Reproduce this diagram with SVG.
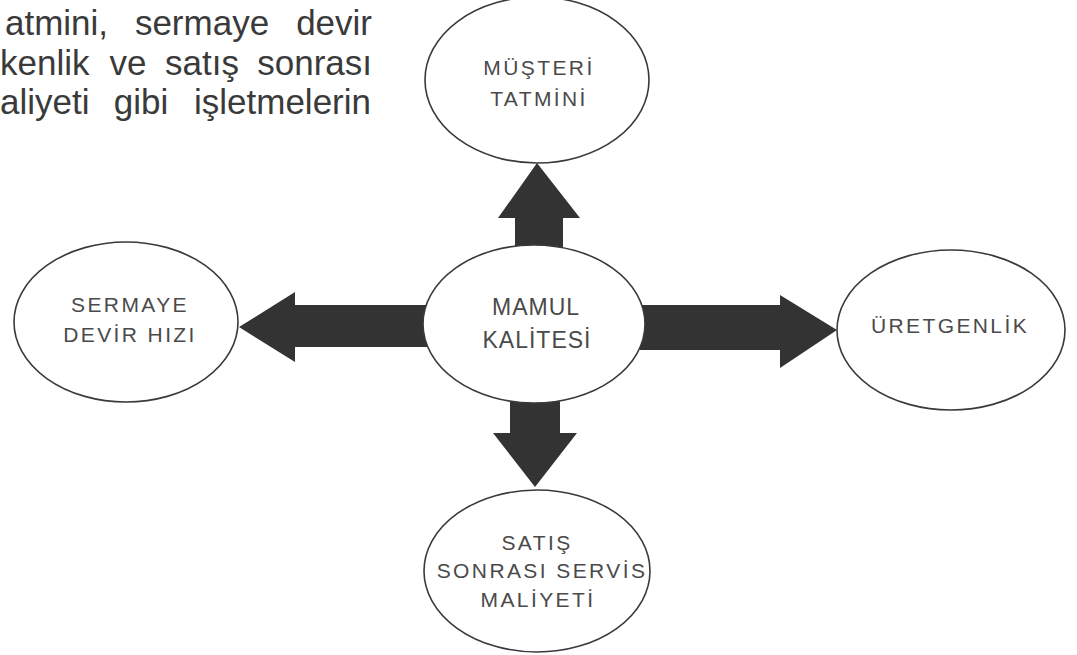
<svg xmlns="http://www.w3.org/2000/svg" width="1077" height="655" viewBox="0 0 1077 655">
  <style>
    .bg { fill: #ffffff; }
    .node ellipse { fill: #ffffff; stroke: #3a3a3a; stroke-width: 1.6; }
    .lbl { font-family: "Liberation Sans", Arial, sans-serif; font-size: 21px; letter-spacing: 2.4px; fill: #4a4a4a; text-anchor: middle; }
    .lbl-c { font-family: "Liberation Sans", Arial, sans-serif; font-size: 23px; letter-spacing: 1px; fill: #4a4a4a; text-anchor: middle; }
    .arrow { fill: #333333; }
    .para { font-family: "Liberation Sans", Arial, sans-serif; font-size: 35px; fill: #3a3a3a; }
    .mid { text-anchor: middle; }
    .end { text-anchor: end; }
  </style>
  <rect class="bg" x="0" y="0" width="1077" height="655"/>

  <g id="paragraph">
    <text class="para" x="5" y="35">atmini,</text>
    <text class="para mid" x="202" y="35">sermaye</text>
    <text class="para end" x="372" y="35">devir</text>
    <text class="para" x="0" y="75">kenlik</text>
    <text class="para mid" x="128" y="75">ve</text>
    <text class="para mid" x="202" y="75">satış</text>
    <text class="para end" x="372" y="75">sonrası</text>
    <text class="para" x="0" y="114">aliyeti</text>
    <text class="para mid" x="141" y="114">gibi</text>
    <text class="para end" x="371" y="114">işletmelerin</text>
  </g>

  <g id="connectors">
    <polygon class="arrow" points="537,163 580,218 563,218 563,252 515,252 515,218 498,218"/>
    <polygon class="arrow" points="239,327 295,292 295,305 430,305 430,347 295,347 295,362"/>
    <polygon class="arrow" points="837,330 780,368 780,350 640,350 640,305 780,305 780,295"/>
    <polygon class="arrow" points="535,487 577,433 560,433 560,398 510,398 510,433 493,433"/>
  </g>

  <g id="node-musteri" class="node">
    <ellipse cx="537" cy="80" rx="112" ry="83"/>
    <text class="lbl" x="539" y="75">MÜŞTERİ</text>
    <text class="lbl" x="539" y="106">TATMİNİ</text>
  </g>

  <g id="node-sermaye" class="node">
    <ellipse cx="126" cy="322" rx="112" ry="80"/>
    <text class="lbl" x="130" y="312">SERMAYE</text>
    <text class="lbl" x="130" y="342">DEVİR HIZI</text>
  </g>

  <g id="node-mamul" class="node">
    <ellipse cx="534" cy="324" rx="111" ry="79"/>
    <text class="lbl-c" x="536" y="315">MAMUL</text>
    <text class="lbl-c" x="537" y="348">KALİTESİ</text>
  </g>

  <g id="node-uretgenlik" class="node">
    <ellipse cx="951" cy="330" rx="114" ry="80"/>
    <text class="lbl" x="950" y="333">ÜRETGENLİK</text>
  </g>

  <g id="node-satis" class="node">
    <ellipse cx="537" cy="571" rx="113" ry="81"/>
    <text class="lbl" x="537" y="550">SATIŞ</text>
    <text class="lbl" x="542" y="578">SONRASI SERVİS</text>
    <text class="lbl" x="538" y="607">MALİYETİ</text>
  </g>
</svg>
